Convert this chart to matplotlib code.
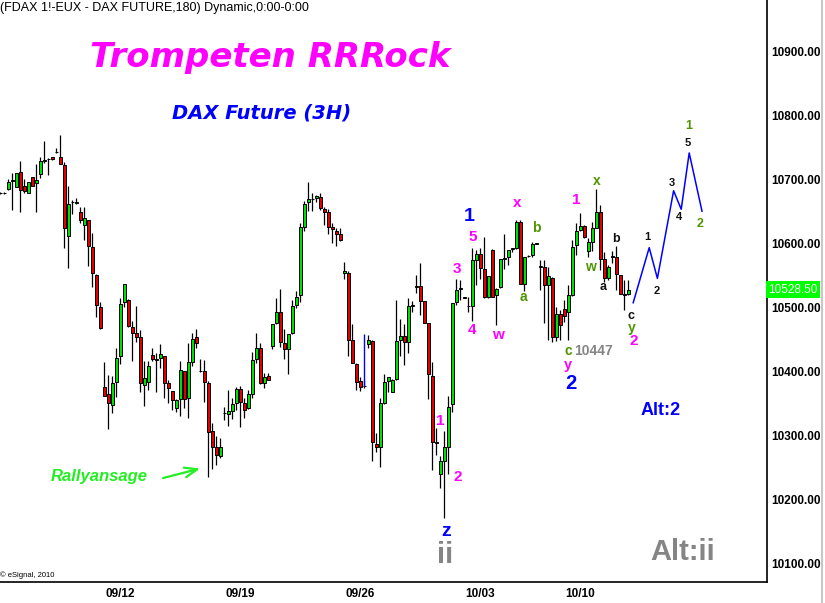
"""
DAX Future 3H Kerzenchart mit Elliott-Wellen-Beschriftung
"""

import numpy as np
import matplotlib
matplotlib.use('Agg')
import matplotlib.pyplot as plt

plt.rcParams['font.family'] = ['Liberation Sans', 'DejaVu Sans']

# --- Kursdaten (3H-Kerzen) ---
opens = [10679, 10679, 10686, 10698, 10689, 10712, 10690, 10680, 10704, 10695,
         10709, 10730, 10732, 10735, 10743, 10735, 10723, 10613, 10665, 10664,
         10650, 10630, 10637, 10595, 10551, 10501, 10376, 10365, 10348, 10384,
         10425, 10509, 10513, 10470, 10461, 10454, 10380, 10384, 10426, 10419,
         10421, 10425, 10383, 10370, 10344, 10357, 10401, 10359, 10416, 10454,
         10402, 10401, 10383, 10308, 10283, 10269, 10335, 10334, 10339, 10351,
         10373, 10351, 10343, 10365, 10420, 10438, 10382, 10393, 10440, 10476,
         10493, 10445, 10435, 10460, 10504, 10520, 10626, 10665, 10670, 10671,
         10673, 10655, 10649, 10626, 10620, 10615, 10554, 10555, 10449, 10413,
         10385, 10378, 10443, 10448, 10287, 10283, 10352, 10385, 10369, 10389,
         10449, 10456, 10447, 10503, 10533, 10534, 10511, 10476, 10394, 10289,
         10240, 10261, 10283, 10349, 10509, 10530, 10516, 10503, 10503, 10575,
         10584, 10560, 10517, 10591, 10520, 10532, 10577, 10580, 10592, 10593,
         10634, 10538, 10581, 10583, 10600, 10564, 10564, 10535, 10547, 10454,
         10491, 10498, 10493, 10520, 10598, 10622, 10628, 10589, 10603, 10625,
         10649, 10577, 10547, 10580, 10579, 10551, 10521, 10521]
highs = [10681, 10681, 10701, 10710, 10711, 10729, 10701, 10697, 10705, 10725,
         10735, 10761, 10734, 10736, 10749, 10770, 10728, 10690, 10668, 10671,
         10657, 10657, 10638, 10617, 10553, 10509, 10416, 10395, 10393, 10437,
         10515, 10537, 10514, 10480, 10503, 10466, 10417, 10417, 10437, 10430,
         10443, 10425, 10388, 10370, 10357, 10417, 10401, 10445, 10460, 10467,
         10420, 10418, 10386, 10320, 10300, 10297, 10345, 10372, 10359, 10377,
         10378, 10359, 10372, 10431, 10460, 10445, 10398, 10398, 10475, 10516,
         10529, 10467, 10459, 10512, 10526, 10632, 10667, 10697, 10680, 10677,
         10680, 10658, 10655, 10632, 10625, 10625, 10572, 10558, 10475, 10414,
         10392, 10387, 10458, 10449, 10305, 10359, 10396, 10392, 10389, 10512,
         10483, 10475, 10516, 10510, 10551, 10570, 10511, 10476, 10415, 10312,
         10269, 10308, 10363, 10508, 10545, 10543, 10517, 10517, 10593, 10590,
         10594, 10610, 10550, 10592, 10531, 10576, 10616, 10590, 10594, 10638,
         10638, 10579, 10583, 10603, 10601, 10575, 10575, 10564, 10548, 10502,
         10497, 10512, 10536, 10606, 10632, 10648, 10629, 10609, 10634, 10685,
         10661, 10588, 10567, 10589, 10596, 10551, 10543, 10543]
lows = [10678, 10678, 10684, 10653, 10689, 10649, 10679, 10679, 10690, 10650,
        10703, 10726, 10708, 10731, 10742, 10724, 10593, 10562, 10646, 10663,
        10632, 10606, 10566, 10533, 10485, 10467, 10362, 10310, 10335, 10360,
        10413, 10502, 10470, 10417, 10446, 10369, 10347, 10372, 10417, 10369,
        10406, 10359, 10352, 10340, 10337, 10331, 10344, 10328, 10409, 10438,
        10399, 10353, 10235, 10248, 10254, 10266, 10325, 10316, 10326, 10340,
        10314, 10328, 10342, 10359, 10414, 10381, 10374, 10388, 10435, 10474,
        10439, 10420, 10396, 10459, 10499, 10509, 10620, 10652, 10652, 10666,
        10653, 10629, 10615, 10602, 10597, 10604, 10545, 10425, 10414, 10372,
        10370, 10374, 10437, 10260, 10275, 10252, 10349, 10369, 10368, 10388,
        10424, 10410, 10429, 10494, 10523, 10489, 10476, 10358, 10247, 10270,
        10218, 10171, 10240, 10337, 10504, 10513, 10515, 10494, 10480, 10535,
        10545, 10516, 10516, 10517, 10473, 10531, 10560, 10567, 10587, 10592,
        10538, 10527, 10580, 10580, 10599, 10528, 10476, 10450, 10447, 10448,
        10449, 10478, 10450, 10519, 10583, 10620, 10609, 10580, 10589, 10624,
        10559, 10541, 10543, 10570, 10528, 10521, 10497, 10520]
closes = [10679, 10679, 10696, 10699, 10710, 10684, 10683, 10696, 10691, 10700,
          10730, 10731, 10733, 10732, 10743, 10724, 10625, 10662, 10666, 10664,
          10638, 10641, 10597, 10555, 10505, 10468, 10363, 10352, 10382, 10421,
          10506, 10537, 10472, 10460, 10455, 10382, 10390, 10409, 10420, 10420,
          10428, 10382, 10375, 10356, 10356, 10403, 10357, 10415, 10452, 10445,
          10401, 10384, 10306, 10283, 10270, 10283, 10336, 10339, 10349, 10373,
          10353, 10340, 10365, 10418, 10438, 10382, 10392, 10388, 10474, 10493,
          10446, 10435, 10459, 10503, 10517, 10626, 10662, 10670, 10670, 10675,
          10656, 10649, 10627, 10623, 10616, 10606, 10558, 10449, 10414, 10384,
          10377, 10378, 10450, 10291, 10283, 10351, 10384, 10392, 10388, 10448,
          10456, 10447, 10503, 10504, 10533, 10511, 10477, 10396, 10291, 10290,
          10261, 10282, 10345, 10507, 10528, 10531, 10516, 10503, 10575, 10584,
          10562, 10517, 10550, 10517, 10530, 10576, 10577, 10590, 10593, 10634,
          10538, 10579, 10581, 10599, 10600, 10564, 10536, 10549, 10454, 10491,
          10473, 10487, 10520, 10595, 10620, 10628, 10610, 10603, 10624, 10649,
          10577, 10547, 10564, 10580, 10553, 10521, 10520, 10528.5]

# Wochen-Beschriftung (Kerzen-Index)
date_idx = [30, 60, 90, 120, 145]
date_labels = ['09/12', '09/19', '09/26', '10/03', '10/10']

price_ticks = [10100, 10200, 10300, 10400, 10500, 10600, 10700, 10800, 10900]

# Projektion (blaue Linie) und Markierung
proj_x = [158.2, 162.2, 164.25, 168.3, 170.2, 172.2, 175.4]
proj_y = [10508, 10594, 10546, 10683, 10654, 10742, 10651]
mark_x = 91
mark_lo, mark_hi = 10378, 10459

MAG = '#ff00ff'
BLUE = '#0000ff'
OLIVE = '#4f9400'
GRAY = '#858585'
BLK = '#111111'

# (text, x, y, farbe, größe)
wave_labels = [
    ('1', 117.25, 10642, BLUE, 14), ('5', 118, 10611, MAG, 11),
    ('3', 114.25, 10561, MAG, 11), ('4', 118, 10465, MAG, 11),
    ('w', 124.5, 10458, MAG, 11), ('x', 129.25, 10664, MAG, 11),
    ('b', 134, 10625, OLIVE, 10), ('a', 130.75, 10517, OLIVE, 10),
    ('1', 144, 10668, MAG, 11), ('x', 149, 10698, OLIVE, 10),
    ('w', 147.5, 10564, OLIVE, 10), ('b', 154, 10608, BLK, 9),
    ('a', 150.75, 10533, BLK, 9), ('c', 157.75, 10487, BLK, 9),
    ('y', 157.75, 10468, OLIVE, 10), ('2', 158.25, 10448, MAG, 11),
    ('c', 142, 10432, OLIVE, 10), ('10447', 148.25, 10432, GRAY, 10),
    ('y', 142, 10411, MAG, 10.5), ('2', 142.5, 10382, BLUE, 14.5),
    ('1', 161.75, 10611, BLK, 8), ('2', 164, 10526, BLK, 8),
    ('3', 167.75, 10695, BLK, 8), ('4', 169.75, 10642, BLK, 8),
    ('5', 171.75, 10758, BLK, 8), ('1', 172, 10784, OLIVE, 9),
    ('2', 175, 10631, OLIVE, 9), ('Alt:2', 165, 10340, BLUE, 13),
    ('1', 110, 10323, MAG, 11), ('2', 114.25, 10236, MAG, 11),
    ('z', 111.5, 10150, BLUE, 14), ('ii', 111.25, 10114, GRAY, 21),
    ('Alt:ii', 170.5, 10118, GRAY, 21),
]

fig = plt.figure(figsize=(8.25, 6.03), dpi=100, facecolor='white')
ax = fig.add_axes([0, 1 - 582 / 603, 767 / 825, 582 / 603])
ax.set_facecolor('white')

o = np.array(opens, dtype=float)
h = np.array(highs, dtype=float)
l = np.array(lows, dtype=float)
c = np.array(closes, dtype=float)
x = np.arange(len(o))
up = c >= o
body = c - o
body = np.where(np.abs(body) < 0.6, 0.6, body)

ax.vlines(x, l, h, color='black', lw=0.9, zorder=1)
ax.bar(x, body, bottom=o, width=0.86,
       color=np.where(up, '#00e000', '#e00000'),
       edgecolor='black', linewidth=0.7, zorder=2)

ax.vlines(mark_x, mark_lo, mark_hi, color=BLUE, lw=1.0, zorder=3)
ax.plot(proj_x, proj_y, color=BLUE, lw=1.1, zorder=3)

for txt, tx, ty, col, sz in wave_labels:
    ax.text(tx, ty, txt, color=col, fontsize=sz, fontweight='bold',
            ha='center', va='center', zorder=4)

# Rallyansage
ax.text(24.75, 10236, 'Rallyansage', color='#22ee22', fontsize=12,
        fontweight='bold', style='italic', ha='center', va='center')
ax.annotate('', xy=(50.6, 10250), xytext=(40, 10233),
            arrowprops=dict(arrowstyle='->,head_length=0.9,head_width=0.35',
                            color='#22ee22', lw=1.6))

ax.set_xlim(-0.1, 191.65)
ax.set_ylim(10981 - 1.5625 * 582, 10981)

for s in ['left', 'top']:
    ax.spines[s].set_visible(False)
for s in ['right', 'bottom']:
    ax.spines[s].set_color('black')
    ax.spines[s].set_linewidth(1.2)

ax.yaxis.tick_right()
ax.set_yticks(price_ticks)
ax.set_yticklabels([f'{v:.2f}' for v in price_ticks], fontweight='bold')
ax.tick_params(axis='y', length=0, pad=3, labelsize=8.5)
ax.set_xticks(date_idx)
ax.set_xticklabels(date_labels, fontweight='bold')
ax.tick_params(axis='x', length=0, pad=4, labelsize=8.5)

# letzter Kurs
last = closes[-1]
ax.text(1.002, last, f'{last:.2f}', transform=ax.get_yaxis_transform(),
        color='white', fontsize=8.5, ha='left', va='center',
        bbox=dict(boxstyle='square,pad=0.18', fc='#00ff00', ec='none'))

fig.text(0.0, 1 - 8 / 603, '(FDAX 1!-EUX - DAX FUTURE,180) Dynamic,0:00-0:00',
         fontsize=9, ha='left', va='center', color='black')
fig.text(270 / 825, 1 - 58 / 603, 'Trompeten RRRock', color=MAG,
         fontsize=24.5, fontweight='bold', style='italic',
         family='DejaVu Sans', ha='center', va='center')
fig.text(262 / 825, 1 - 113 / 603, 'DAX Future (3H)', color=BLUE,
         fontsize=14, fontweight='bold', style='italic',
         family='DejaVu Sans', ha='center', va='center')
fig.text(0.0, 1 - 575 / 603, '© eSignal, 2010', fontsize=5.5,
         ha='left', va='center', color='black')

fig.add_artist(plt.Line2D([822 / 825, 822 / 825], [0, 1], color='#c8c8c8',
                          lw=1.5, transform=fig.transFigure))

fig.savefig('out.png', dpi=100, facecolor='white')
